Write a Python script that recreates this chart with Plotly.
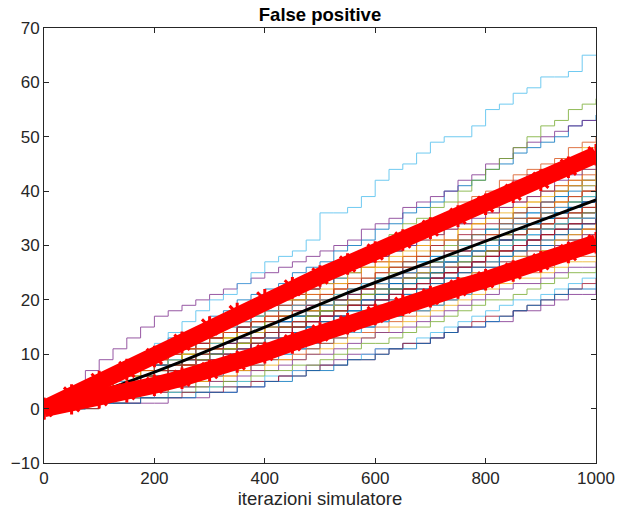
import plotly.graph_objects as go

# x grid of the simulated runs (every 25 iterations)
ITER = list(range(0, 1001, 25))
# x grid of the summary curves (every 50 iterations)
ITER_S = list(range(0, 1001, 50))

run_01 = [0,1,3,4,6,7,8,10,11,13,14,15,17,18,20,21,22,23,25,26,27,29,30,31,33,34,36,37,38,40,41,42,44,45,47,48,49,50,52,53,54]
run_02 = [0,0,1,3,4,4,6,8,9,9,11,12,14,16,16,17,19,21,22,22,24,25,27,28,30,31,31,33,35,36,38,39,40,42,43,44,45,46,48,49,50]
run_03 = [0,1,2,2,3,5,6,6,7,8,10,11,12,13,15,16,17,18,20,21,22,24,25,26,27,29,30,31,32,34,35,37,38,39,41,42,44,45,46,48,49]
run_04 = [0,2,4,7,9,11,13,15,17,18,19,20,21,22,23,24,25,26,27,28,29,30,31,33,34,35,37,38,39,40,42,43,45,46,48,49,50,51,52,53,53]
run_05 = [0,1,2,3,4,5,6,7,8,9,11,12,13,14,15,17,18,20,21,23,24,26,27,29,30,32,34,35,37,38,40,42,44,46,48,50,52,53,55,56,57]
run_06 = [0,1,2,4,5,7,8,10,12,14,16,18,20,21,23,25,27,28,29,31,36,36,37,39,42,44,45,47,49,50,50,52,55,56,58,59,61,61,62,65,65]
run_07 = [0,1,1,2,4,5,7,8,8,10,12,13,13,14,16,18,19,19,21,22,23,25,26,28,29,30,31,33,34,35,37,38,39,40,42,43,44,45,46,47,48]
run_08 = [0,0,1,2,3,4,5,6,8,9,10,12,13,14,15,17,18,19,20,22,23,24,25,27,28,29,30,32,33,34,36,37,38,39,41,42,43,44,46,46,47]
run_09 = [0,2,3,4,5,6,7,9,10,11,12,13,14,16,17,18,19,20,21,22,24,25,26,27,28,29,31,32,33,34,35,36,37,39,40,41,42,43,44,45,46]
run_10 = [0,1,1,2,3,4,5,6,7,8,9,10,12,13,14,15,16,17,19,20,21,22,23,24,26,27,28,29,30,31,33,34,35,36,37,38,40,41,42,44,45]
run_11 = [0,0,0,0,1,1,1,1,1,2,2,2,3,3,4,4,5,6,7,8,8,9,10,10,11,11,12,12,13,14,15,15,16,16,18,18,19,20,21,21,22]
run_12 = [0,1,2,3,4,4,5,7,8,9,10,11,12,12,14,15,16,17,18,19,20,21,22,23,24,26,27,28,29,30,31,32,33,35,36,37,38,40,41,42,44]
run_13 = [0,0,1,2,2,3,4,5,6,7,8,9,10,11,12,14,15,16,17,18,19,20,21,22,24,25,26,27,28,29,30,32,33,34,35,36,38,39,41,42,43]
run_14 = [0,1,2,3,5,6,7,8,9,10,11,12,13,14,15,16,17,18,19,20,21,22,23,24,25,26,27,28,30,31,32,33,34,35,36,37,38,40,41,42,43]
run_15 = [0,0,1,1,2,3,4,5,6,7,8,9,10,11,12,13,14,16,17,18,19,20,21,23,24,25,26,27,28,29,31,32,33,34,35,36,37,39,40,41,42]
run_16 = [0,1,1,2,3,4,4,5,6,7,8,9,10,11,12,13,14,15,16,17,18,19,20,21,22,23,24,26,27,28,29,30,31,32,34,35,36,37,38,40,41]
run_17 = [0,1,2,3,4,5,6,7,8,9,10,11,12,12,13,14,15,16,17,18,19,20,21,22,23,24,25,26,27,28,30,31,32,33,34,35,36,38,39,40,41]
run_18 = [0,0,1,2,3,3,4,5,6,7,8,9,10,11,12,13,14,15,16,17,18,19,20,21,22,23,24,25,26,27,28,29,30,32,33,34,35,36,38,39,40]
run_19 = [0,1,2,3,3,4,5,6,7,8,9,10,11,13,14,15,16,17,17,18,19,20,21,22,23,24,25,26,27,28,29,30,31,32,33,35,36,37,38,39,40]
run_20 = [0,1,1,2,3,4,5,5,6,7,8,9,10,11,12,13,14,15,16,17,18,19,20,21,22,22,23,24,25,27,28,29,30,31,32,33,34,35,37,38,39]
run_21 = [0,0,1,2,2,3,4,5,6,7,8,9,10,11,12,14,15,16,17,18,19,20,21,22,23,24,25,26,27,28,29,30,31,32,33,34,35,36,37,38,39]
run_22 = [0,1,2,2,3,4,5,6,7,8,9,9,10,11,12,13,14,15,16,17,18,19,20,21,22,23,24,25,26,27,28,29,29,30,31,32,33,35,36,37,38]
run_23 = [0,0,1,1,2,3,4,5,5,6,7,8,9,10,11,12,13,14,15,16,17,18,19,20,21,22,23,24,25,26,27,29,30,31,32,33,34,35,36,37,38]
run_24 = [0,1,1,2,3,4,4,5,6,7,8,9,10,11,12,13,13,14,15,16,17,18,19,20,21,22,23,24,25,26,27,28,29,30,31,32,33,34,35,36,37]
run_25 = [0,0,1,2,3,3,4,5,6,7,8,8,9,10,11,12,13,14,15,16,17,18,19,20,21,21,22,23,24,25,27,28,29,30,31,32,33,34,35,36,37]
run_26 = [0,1,1,2,3,3,4,5,6,6,7,8,9,10,11,12,13,14,14,15,16,17,18,19,20,21,22,23,24,25,26,27,28,29,30,31,32,33,34,35,36]
run_27 = [0,0,0,1,2,3,4,5,6,7,8,9,10,11,11,12,13,14,15,16,17,18,19,20,21,22,23,24,25,26,27,28,29,30,31,32,33,34,35,35,36]
run_28 = [0,1,2,2,3,4,5,5,6,7,8,9,10,10,11,12,13,14,15,16,17,17,18,19,20,21,22,23,24,25,26,27,28,29,30,31,32,33,34,34,35]
run_29 = [0,0,1,1,2,3,3,4,5,6,7,7,8,9,10,11,12,13,14,15,16,17,18,19,20,21,21,22,23,24,25,26,27,28,29,30,31,32,33,34,35]
run_30 = [0,1,1,2,2,3,4,4,5,6,7,8,8,9,10,11,12,13,14,14,15,16,17,18,19,20,21,22,23,24,25,26,27,28,29,30,31,32,33,33,34]
run_31 = [0,0,1,1,2,2,3,4,5,5,6,7,8,9,9,10,11,12,13,14,15,16,17,18,19,19,20,21,22,23,24,25,26,27,28,29,30,31,32,32,33]
run_32 = [0,1,1,2,3,3,4,5,5,6,7,8,9,9,10,11,12,12,13,14,15,16,17,18,18,19,20,21,22,23,24,25,26,27,28,29,30,31,32,33,33]
run_33 = [0,0,1,1,2,3,3,4,4,5,6,7,7,8,9,10,11,11,12,13,14,15,16,17,18,19,19,20,21,22,23,24,25,26,27,28,29,30,31,31,32]
run_34 = [0,0,0,1,1,2,3,3,4,5,5,6,7,8,8,9,10,11,12,13,14,14,15,16,17,18,19,20,21,22,23,24,25,26,27,27,28,29,30,31,31]
run_35 = [0,1,1,1,2,2,3,4,4,5,6,6,7,8,8,9,10,11,11,12,13,14,15,15,16,17,18,19,20,21,22,22,23,24,25,26,27,28,29,29,30]
run_36 = [0,0,1,1,1,2,2,3,3,4,4,5,6,7,7,8,9,10,11,11,12,13,14,15,16,17,18,18,19,20,21,22,23,24,25,26,27,28,29,29,30]
run_37 = [0,0,0,1,1,2,2,3,3,4,5,5,6,6,7,8,9,9,10,11,12,13,14,14,15,16,17,18,19,20,21,22,23,24,25,25,26,27,28,28,29]
run_38 = [0,0,1,1,2,2,2,3,3,4,4,5,5,6,7,7,8,9,9,10,11,12,13,13,14,15,16,17,18,19,20,21,22,23,24,24,25,26,27,27,28]
run_39 = [0,0,0,1,1,1,2,2,3,3,4,4,5,5,6,7,7,8,9,10,10,11,12,13,14,14,15,16,17,18,19,20,21,22,23,23,24,25,26,26,27]
run_40 = [0,0,0,0,1,1,2,2,2,3,3,4,4,5,5,6,7,7,8,8,9,10,11,12,12,13,14,15,16,17,18,19,20,20,21,22,23,24,25,25,26]
run_41 = [0,0,0,1,1,1,2,2,2,3,3,3,4,4,5,5,6,6,7,7,8,8,9,10,11,11,12,13,14,15,16,17,18,19,20,20,21,22,23,24,25]
run_42 = [0,0,0,0,1,1,1,2,2,2,3,3,3,4,4,5,5,6,6,7,8,8,9,9,10,11,12,12,13,14,15,16,17,17,18,19,20,21,22,23,24]
run_43 = [0,0,0,1,1,1,1,2,2,2,2,3,3,3,4,4,5,5,6,7,7,8,9,9,10,11,11,12,13,14,15,15,16,17,18,19,20,21,22,22,23]
run_44 = [0,2,3,3,5,6,6,8,9,11, 11,12,13,15,16,16,18,19,20,21, 21,23,24,26,27,27,28,30,31,33, 34,34,36,37,38,39,40,41,42,43, 44]
run_45 = [0,0,1,3,3,4,6,7,7,8, 10,10,11,13,14,14,15,17,18,18, 19,21,22,22,23,25,26,26,27,29, 30,30,32,33,34,35,36,38,39,41, 42]
run_46 = [0,1,1,2,4,5,5,6,8,8, 9,11,11,12,13,15,15,16,18,19, 19,20,22,22,23,24,26,26,27,29, 29,31,32,33,34,35,36,37,39,40, 41]
run_47 = [0,0,2,2,3,4,4,6,7,8, 8,10,11,11,12,14,14,15,17,17, 18,20,20,21,23,24,24,25,27,28, 28,30,31,32,33,34,35,36,38,39, 40]
run_48 = [0,1,2,3,3,5,6,6,7,9, 9,10,12,12,13,15,15,16,17,19, 19,20,21,23,23,24,25,27,27,28, 30,30,31,33,34,34,36,37,38,39, 40]
run_49 = [0,0,1,2,2,4,4,5,7,7, 8,9,11,11,12,13,14,15,16,17, 18,18,20,21,21,22,24,25,25,27, 28,28,29,31,32,33,34,35,37,38, 39]
run_50 = [0,1,1,3,4,4,5,6,8,8, 9,10,10,12,13,14,14,16,17,17, 18,19,21,21,22,23,24,25,26,27, 28,29,30,31,32,33,35,36,37,38, 39]
run_51 = [0,0,1,1,3,4,4,5,6,6, 8,9,9,10,12,12,13,14,15,16, 17,18,19,19,21,22,22,23,25,26, 26,27,29,30,30,31,33,34,35,37, 38]
run_52 = [0,1,2,2,3,4,6,6,7,8, 8,10,11,11,12,14,15,15,16,17, 18,19,20,21,22,22,24,25,26,26, 28,29,30,30,32,33,34,35,36,37, 38]
run_53 = [0,0,1,2,2,3,5,5,6,7, 7,9,10,10,11,12,13,14,15,16, 17,17,19,20,20,21,23,23,24,26, 26,27,28,30,30,31,33,34,35,36, 37]
run_54 = [0,1,1,2,3,3,4,6,6,7, 9,9,10,11,12,12,14,15,15,17, 18,18,19,21,21,22,23,24,25,27, 27,28,29,30,31,33,33,34,35,36, 37]
run_55 = [0,0,1,1,2,4,4,5,6,6, 7,8,9,10,11,11,13,14,14,15, 16,17,18,19,20,21,21,23,24,24, 26,27,27,28,30,31,31,33,34,35, 36]
run_56 = [0,1,1,2,2,3,4,5,5,7, 8,8,9,10,11,12,12,14,15,16, 16,17,19,19,20,21,22,23,24,25, 26,27,28,29,30,31,32,33,34,35, 36]
run_57 = [0,0,0,1,2,3,3,4,5,6, 6,8,8,9,10,11,12,12,13,15, 15,16,17,18,19,20,21,22,23,24, 25,26,26,28,29,30,30,32,33,34, 35]
run_58 = [0,1,1,1,2,3,4,4,5,6, 7,7,8,9,10,10,11,12,13,14, 15,15,16,17,18,19,20,20,22,23, 23,24,25,26,27,28,29,30,31,33, 34]
run_59 = [0,0,1,2,2,3,3,5,5,6, 7,8,8,9,10,11,12,12,13,14, 15,16,16,18,18,19,20,21,22,22, 24,25,25,26,28,28,29,31,32,33, 34]
run_60 = [0,0,1,1,2,2,3,4,4,5, 6,6,7,8,9,10,10,11,12,13, 14,14,15,16,17,18,19,20,20,22, 23,23,24,26,27,28,28,30,31,32, 33]
run_61 = [0,1,1,2,2,3,4,4,5,5, 6,7,8,8,9,10,10,11,12,13, 13,14,15,16,17,17,18,19,20,21, 22,23,24,25,26,27,28,29,30,31, 32]
run_62 = [0,0,1,1,1,2,3,3,4,5, 5,6,7,7,8,9,10,10,11,12, 13,14,14,15,16,17,18,18,19,20, 21,22,23,24,25,26,27,28,29,30, 31]
run_63 = [0,2,3,5,6,7,8,9,10,11, 12,12,13,14,15,16,16,17,18,19, 20,20,21,22,23,24,25,26,26,27, 28,29,30,31,32,33,34,35,36,37, 38]
run_64 = [0,0,0,1,1,2,3,3,4,5, 6,7,8,9,10,11,12,13,14,15, 16,17,18,20,21,22,23,24,25,27, 28,29,30,31,33,34,35,36,37,38, 39]
run_65 = [0,1,2,4,4,6,7,7,9,10, 11,11,13,14,14,16,17,17,19,20, 20,22,23,23,25,26,26,28,29,29, 31,32,32,34,35,35,37,38,39,40, 41]
run_66 = [0,1,3,4,4,6,8,8,10,11, 12,14,14,16,17,17,19,20,20,22, 23,23,25,26,26,28,29,30,31,31, 33,34,35,35,37,38,39,40,41,42, 43]
run_67 = [0,2,3,4,6,7,8,10,10,12, 13,14,15,16,17,19,19,21,22,22, 24,25,26,27,28,29,30,31,32,33, 34,35,36,37,38,39,40,42,43,44, 45]
run_68 = [0,1,2,4,5,6,8,9,11,12, 13,14,16,17,18,19,21,22,23,24, 25,26,27,29,30,31,32,33,34,35, 37,38,39,40,41,42,43,44,45,46, 47]
run_69 = [0,1,3,4,6,7,9,10,11,12, 13,14,15,15,16,17,18,18,19,20, 20,21,22,23,23,24,25,26,26,27, 28,29,30,30,31,32,33,34,35,35, 36]
run_70 = [0,0,1,2,3,4,5,6,7,8, 9,10,11,12,13,13,14,15,16,16, 17,18,19,19,20,21,22,23,24,25, 26,27,28,29,30,31,32,33,34,34, 35]

runs = [run_01, run_02, run_03, run_04, run_05, run_06, run_07, run_08, run_09, run_10,
        run_11, run_12, run_13, run_14, run_15, run_16, run_17, run_18, run_19, run_20,
        run_21, run_22, run_23, run_24, run_25, run_26, run_27, run_28, run_29, run_30,
        run_31, run_32, run_33, run_34, run_35, run_36, run_37, run_38, run_39, run_40,
        run_41, run_42, run_43, run_44, run_45, run_46, run_47, run_48, run_49, run_50,
        run_51, run_52, run_53, run_54, run_55, run_56, run_57, run_58, run_59, run_60,
        run_61, run_62, run_63, run_64, run_65, run_66, run_67, run_68, run_69, run_70]

mean_curve  = [0,1.3,3.0,4.8,6.7,8.7,10.8,12.9,15.0,17.2,19.3,21.3,23.2,25.1,27.0,28.9,30.8,32.7,34.6,36.5,38.4]
upper_curve = [0,2.5,5.0,7.2,9.6,12.2,15.0,17.5,20.0,22.2,24.4,26.6,28.8,31.0,33.2,35.4,37.6,39.8,42.0,44.4,46.7]
lower_curve = [0,0.9,2.0,3.1,4.3,5.6,7.0,8.6,10.3,12.1,13.9,15.6,17.3,19.0,20.6,22.2,23.7,25.3,27.0,28.7,30.5]

MATLAB_COLORS = ["#0072BD", "#D95319", "#EDB120", "#7E2F8E", "#77AC30", "#4DBEEE", "#A2142F"]

fig = go.Figure()
for i, r in enumerate(runs):
    fig.add_trace(go.Scatter(x=ITER[:len(r)], y=r, mode="lines", line_shape="hv",
                             line=dict(color=MATLAB_COLORS[i % 7], width=1),
                             opacity=0.8, hoverinfo="skip", showlegend=False))

fig.add_trace(go.Scatter(x=ITER_S, y=mean_curve, mode="lines",
                         line=dict(color="black", width=3), showlegend=False))
for band in (upper_curve, lower_curve):
    fig.add_trace(go.Scatter(x=ITER_S, y=band, mode="lines+markers",
                             line=dict(color="#FF0000", width=17),
                             marker=dict(symbol="asterisk-open", size=18,
                                         line=dict(color="#FF0000", width=3)),
                             showlegend=False))

axis_common = dict(showline=True, linecolor="#262626", linewidth=1, mirror="ticks",
                   ticks="inside", ticklen=5, tickcolor="#262626", showgrid=False,
                   zeroline=False, automargin=False,
                   tickfont=dict(family="Liberation Sans", size=17, color="#262626"))

fig.update_layout(
    width=617, height=517,
    margin=dict(l=44, r=21, t=28, b=54),
    paper_bgcolor="white", plot_bgcolor="white",
    title=dict(text="<b>False positive</b>", x=0.5, xanchor="center", xref="paper",
               y=0.972, yref="container", yanchor="middle",
               font=dict(family="Liberation Sans", size=18.5, color="black")),
    xaxis=dict(range=[0, 1000], tickvals=[0, 200, 400, 600, 800, 1000],
               title=dict(text="iterazioni simulatore", standoff=4,
                          font=dict(family="Liberation Sans", size=18.5, color="#262626")),
               **axis_common),
    yaxis=dict(range=[-10, 70], tickvals=[-10, 0, 10, 20, 30, 40, 50, 60, 70], **axis_common),
)

fig.write_html("out.html", config={"displayModeBar": False},
               post_script="document.body.style.margin='0';document.body.style.padding='0';"
                           "document.body.style.overflow='hidden';")
